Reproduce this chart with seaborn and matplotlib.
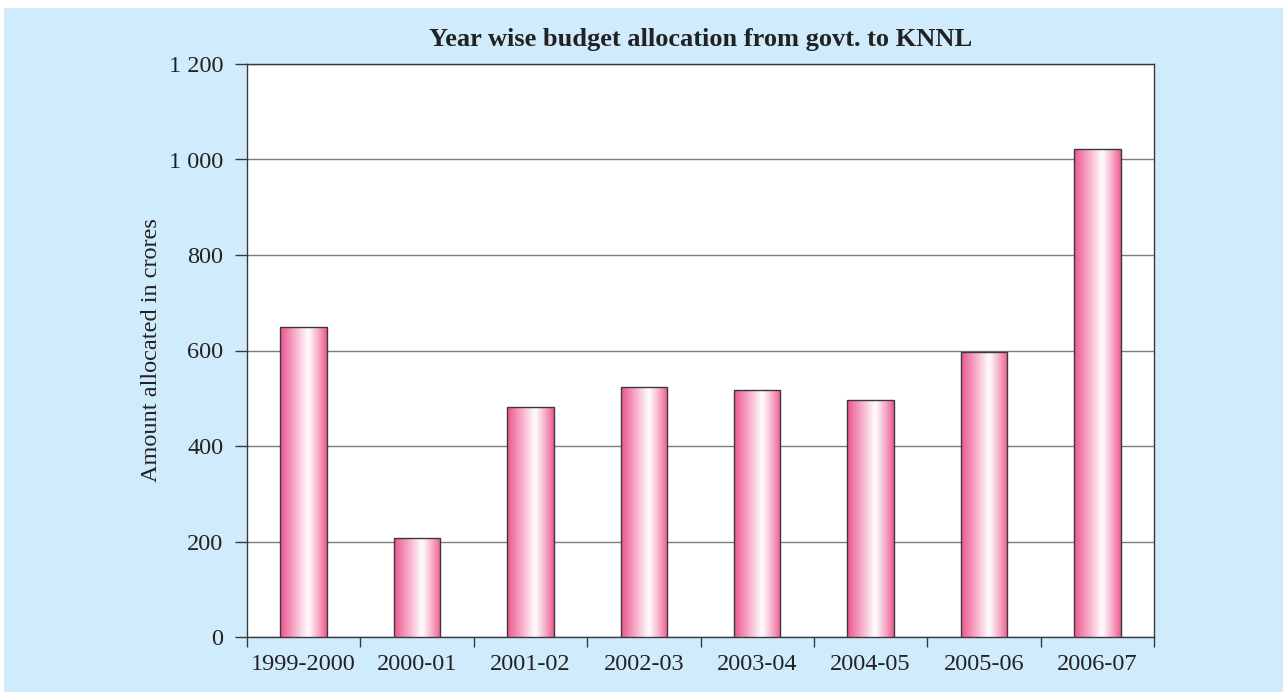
import numpy as np
import pandas as pd
import matplotlib.pyplot as plt
from matplotlib.colors import LinearSegmentedColormap
from matplotlib.patches import Rectangle
import seaborn as sns

sns.set_style("ticks")
plt.rcParams['font.family'] = ['Liberation Serif', 'DejaVu Serif']

# data
years = ["1999-2000", "2000-01", "2001-02", "2002-03",
         "2003-04", "2004-05", "2005-06", "2006-07"]
amount = [650, 207, 481, 523, 518, 497, 597, 1022]
y_ticks = [0, 200, 400, 600, 800, 1000, 1200]
y_tick_labels = ["0", "200", "400", "600", "800", "1 000", "1 200"]

bg_blue = "#d0ebfb"
edge = "#3a3a3a"

df = pd.DataFrame({"year": years, "amount": amount})

fig = plt.figure(figsize=(12.83, 6.92), dpi=100)
fig.patch.set_facecolor("white")
# light blue panel behind everything (small white margin at top and left)
fig.patches.append(Rectangle((4 / 1283, 0), 1 - 4 / 1283, 1 - 8 / 692,
                             transform=fig.transFigure, facecolor=bg_blue,
                             edgecolor="none", zorder=-10))

ax = fig.add_axes([247 / 1283, 1 - 637 / 692, (1154 - 247) / 1283, (637 - 64) / 692])
ax.set_facecolor("white")

sns.barplot(data=df, x="year", y="amount", ax=ax, width=0.41,
            color="#ee5a92", edgecolor=edge, linewidth=1.0, zorder=3)

# pink -> white -> pink gradient inside each bar
pink = LinearSegmentedColormap.from_list(
    "pinkbar", [(0.0, "#ec5490"), (0.3, "#f6a8c6"), (0.6, "#ffffff"),
                (0.8, "#f7b4cd"), (1.0, "#ee5a92")])
grad = np.linspace(0, 1, 256).reshape(1, -1)
for p in ax.patches:
    x0, y0 = p.get_x(), p.get_y()
    w, h = p.get_width(), p.get_height()
    im = ax.imshow(grad, cmap=pink, aspect="auto", extent=[x0, x0 + w, y0, y0 + h],
                   zorder=3.5, interpolation="bicubic")
    im.set_clip_path(p)
    p.set_facecolor("none")
    p.set_zorder(4)

ax.set_xlim(-0.5, 7.5)
ax.set_ylim(0, 1200)
ax.set_yticks(y_ticks)
ax.set_yticklabels(y_tick_labels)
ax.yaxis.grid(True, color="#7d7d7d", linewidth=1.0, zorder=1)
ax.set_axisbelow(True)

# category boundaries get the tick marks, centres get the labels
ax.set_xticks(np.arange(-0.5, 8, 1))
ax.set_xticklabels([])
ax.set_xticks(np.arange(len(years)), minor=True)
ax.set_xticklabels(years, minor=True)
ax.tick_params(axis="x", which="major", length=7, width=1, color=edge, direction="out")
ax.tick_params(axis="x", which="minor", length=0, pad=12, labelsize=17.5, labelcolor="#222222")
ax.tick_params(axis="y", length=9, width=1, color=edge, pad=8, labelsize=17.5, labelcolor="#222222")

for s in ax.spines.values():
    s.set_color(edge)
    s.set_linewidth(1.0)
    s.set_visible(True)

ax.set_xlabel("")
ax.set_ylabel("Amount allocated in crores", fontsize=17.5, color="#222222", labelpad=5)
ax.set_title("Year wise budget allocation from govt. to KNNL", fontsize=19,
             fontweight="bold", color="#222222", pad=13)

fig.savefig("out.png", dpi=100)
